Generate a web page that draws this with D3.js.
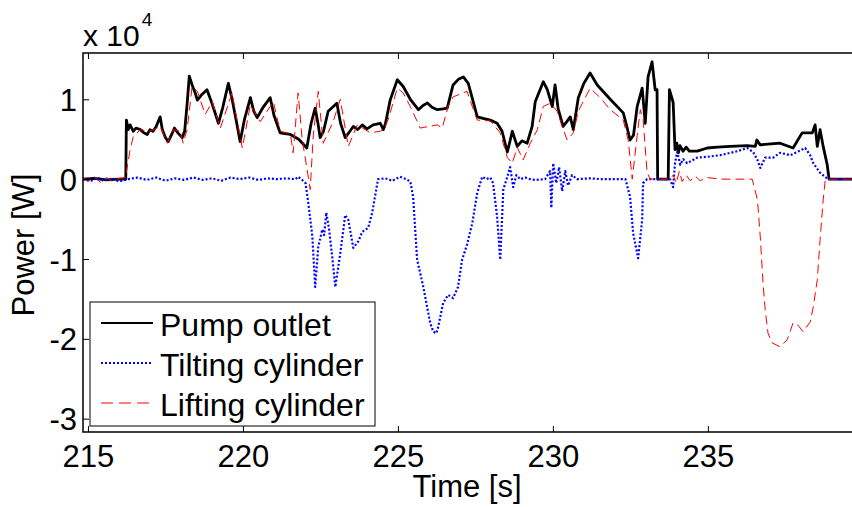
<!DOCTYPE html>
<html>
<head>
<meta charset="utf-8">
<script src="https://cdn.jsdelivr.net/npm/d3@7"></script>
<style>
  body { margin: 0; background: #fff; }
  text { font-family: "Liberation Sans", Arial, sans-serif; fill: #000; }
</style>
</head>
<body>
<div id="chart-area"></div>
<script>
// values are in units of 1e4 W, times in s
var xTicks = [215, 220, 225, 230, 235];
var yTicks = [1, 0, -1, -2, -3];
var seriesNames = ["Pump outlet", "Tilting cylinder", "Lifting cylinder"];

var pumpOutlet = [
  [214.84,0],[215.2,0.01],[215.6,-0.01],[216.0,0],[216.22,0],
  [216.24,0.74],[216.3,0.62],[216.36,0.68],[216.46,0.6],[216.55,0.64],[216.69,0.62],[216.8,0.58],
  [216.91,0.56],[217.0,0.62],[217.1,0.6],[217.2,0.66],[217.33,0.78],[217.4,0.62],[217.5,0.52],
  [217.59,0.47],[217.7,0.56],[217.79,0.64],[217.9,0.58],[218.04,0.52],[218.12,0.6],[218.2,0.95],
  [218.27,1.29],[218.36,1.18],[218.46,1.08],[218.53,0.99],[218.65,1.05],[218.84,1.12],[219.0,0.95],
  [219.21,0.7],[219.35,0.9],[219.53,1.2],[219.65,1.0],[219.8,0.7],[219.91,0.47],[220.05,0.75],
  [220.24,1.02],[220.35,0.85],[220.46,0.77],[220.65,0.9],[220.88,1.02],[221.0,0.8],[221.2,0.58],
  [221.35,0.57],[221.53,0.56],[221.8,0.5],[222.06,0.39],[222.2,0.7],[222.33,0.89],[222.42,0.7],
  [222.49,0.52],[222.6,0.6],[222.75,0.85],[223.03,0.95],[223.15,0.7],[223.3,0.52],[223.45,0.6],
  [223.56,0.66],[223.7,0.62],[223.85,0.68],[224.0,0.63],[224.2,0.68],[224.43,0.7],[224.53,0.62],
  [224.6,0.7],[224.75,0.99],[224.98,1.245],[225.17,1.16],[225.4,1.0],[225.66,0.87],[225.8,0.92],
  [225.95,0.955],[226.1,0.9],[226.27,0.87],[226.45,0.88],[226.59,0.89],[226.78,1.18],[226.95,1.25],
  [227.11,1.28],[227.27,1.2],[227.56,0.78],[227.75,0.76],[227.98,0.74],[228.2,0.7],[228.36,0.6],
  [228.53,0.34],[228.6,0.45],[228.69,0.6],[228.85,0.41],[229.0,0.48],[229.17,0.45],[229.33,0.66],
  [229.43,0.97],[229.69,1.22],[229.82,1.12],[229.98,0.91],[230.07,1.18],[230.17,0.88],[230.33,0.66],
  [230.45,0.72],[230.56,0.78],[230.66,0.62],[230.82,1.02],[231.0,1.2],[231.2,1.33],[231.43,1.18],
  [231.85,1.0],[232.27,0.83],[232.36,0.7],[232.49,0.49],[232.6,0.55],[232.72,0.91],[232.88,1.14],
  [232.98,0.7],[233.07,1.28],[233.2,1.47],[233.3,1.12],[233.36,1.12],[233.38,0],[233.72,0],
  [233.76,1.12],[233.88,0.96],[233.94,0.37],[234.0,0.45],[234.05,0.33],[234.1,0.42],[234.2,0.35],
  [234.3,0.4],[234.4,0.35],[234.66,0.35],[234.98,0.39],[235.3,0.4],[235.72,0.41],[236.27,0.42],
  [236.53,0.41],[236.58,0.49],[236.69,0.43],[237.33,0.45],[237.75,0.39],[238.04,0.58],[238.37,0.58],
  [238.46,0.68],[238.53,0.41],[238.62,0.62],[238.72,0.41],[238.85,0.18],[238.91,0],[239.65,0]
];

var tiltingCylinder = [
  [214.84,0],[215.1,-0.02],[215.3,0.02],[215.5,-0.02],[215.8,0.01],[216.0,-0.03],[216.3,0],
  [216.6,0.02],[216.9,-0.01],[217.2,0.02],[217.5,-0.02],[217.8,0.01],[218.1,-0.01],[218.4,0.02],
  [218.7,-0.01],[219.0,0.01],[219.3,-0.02],[219.6,0.02],[219.9,0],[220.2,0.02],[220.5,-0.01],
  [220.8,0.01],[221.1,0],[221.4,0.01],[221.7,0],[221.78,0.03],[221.91,-0.01],
  [222.02,-0.05],[222.11,-0.3],[222.24,-0.72],[222.33,-1.35],[222.43,-0.85],[222.56,-0.63],
  [222.62,-0.7],[222.69,-0.42],[222.78,-0.63],[222.88,-0.97],[222.98,-1.35],[223.14,-0.93],
  [223.3,-0.45],[223.4,-0.51],[223.56,-0.86],[223.72,-0.78],[223.85,-0.66],[224.04,-0.61],
  [224.17,-0.42],[224.36,0],[224.59,0.01],[224.82,-0.02],[225.07,0.03],[225.26,0],[225.4,-0.03],
  [225.49,-0.22],[225.62,-1.01],[225.82,-1.35],[226.04,-1.8],[226.14,-1.91],[226.24,-1.93],
  [226.3,-1.85],[226.46,-1.55],[226.62,-1.45],[226.78,-1.49],[226.94,-1.35],[227.07,-1.01],
  [227.23,-0.82],[227.4,-0.55],[227.56,-0.17],[227.72,0.03],[227.85,0],[227.98,0.02],
  [228.07,-0.05],[228.2,-0.47],[228.3,-1.01],[228.4,-0.13],[228.53,0.03],[228.62,0.15],
  [228.72,-0.1],[228.82,0.05],[228.95,0],[229.11,0.02],[229.27,0],[229.43,-0.01],[229.75,0],
  [229.91,0.1],[229.95,-0.36],[230.01,0.2],[230.11,-0.05],[230.2,0.15],[230.3,-0.15],[230.4,0.1],
  [230.49,-0.08],[230.62,0.05],[230.78,0],[231.2,0.01],[231.53,0],[231.85,0],[232.34,0],
  [232.49,-0.22],[232.59,-0.68],[232.75,-0.99],[232.88,-0.51],[232.91,-0.05],[233.04,0],
  [233.78,0],[233.88,-0.1],[233.94,0.2],[234.01,0.34],[234.11,0.18],[234.2,0.25],[234.33,0.2],
  [234.66,0.27],[234.98,0.28],[235.4,0.3],[235.95,0.35],[236.27,0.39],[236.46,0.34],[236.6,0.24],
  [236.69,0.14],[236.85,0.27],[237.11,0.27],[237.33,0.33],[237.66,0.3],[237.88,0.34],[238.14,0.39],
  [238.3,0.3],[238.4,0.2],[238.62,0.08],[238.88,0],[239.65,0]
];

var liftingCylinder = [
  [214.84,0.02],[215.0,-0.03],[215.2,0.03],[215.4,-0.04],[215.6,0.02],[215.8,-0.03],[216.0,0.01],
  [216.21,0.02],[216.36,0.37],[216.46,0.53],[216.69,0.62],[217.01,0.6],[217.33,0.66],[217.56,0.45],
  [217.75,0.62],[217.98,0.6],[218.07,0.45],[218.2,0.62],[218.36,1.16],[218.53,1.1],[218.78,0.81],
  [219.01,0.97],[219.27,0.64],[219.65,1.08],[219.78,0.8],[219.98,0.39],[220.24,0.93],[220.56,0.72],
  [220.98,0.97],[221.2,0.6],[221.53,0.57],[221.62,0.33],[221.78,1.08],[221.91,0.5],[222.07,0.12],
  [222.17,-0.13],[222.27,0.55],[222.43,1.1],[222.59,0.45],[222.91,0.72],[223.14,1.0],[223.4,0.41],
  [223.69,0.68],[224.11,0.58],[224.43,0.6],[224.53,0.62],[224.69,0.75],[224.98,1.14],[225.17,1.08],
  [225.4,0.91],[225.72,0.64],[226.27,0.68],[226.43,0.64],[226.62,0.91],[226.78,1.03],[227.23,1.1],
  [227.4,0.91],[227.56,0.74],[227.98,0.73],[228.3,0.58],[228.53,0.27],[228.69,0.2],[228.85,0.4],
  [229.04,0.24],[229.27,0.45],[229.5,0.62],[229.69,0.91],[229.91,0.95],[230.14,0.85],[230.3,0.66],
  [230.46,0.49],[230.66,0.58],[230.82,0.85],[231.2,1.14],[231.53,1.02],[231.85,0.87],[232.27,0.74],
  [232.43,0.49],[232.56,0],[232.72,0.55],[232.82,0.87],[232.91,0.75],[233.04,0.08],[233.14,0],
  [233.78,0],[233.88,0.05],[233.98,-0.05],[234.08,0.1],[234.17,-0.03],[234.3,0.05],[234.43,-0.02],
  [234.59,0.04],[234.75,-0.02],[234.98,0.02],[235.4,0],[236.43,0],[236.6,-0.26],[236.69,-0.72],
  [236.78,-1.3],[236.85,-1.64],[236.94,-1.93],[237.07,-2.05],[237.33,-2.1],[237.56,-2.01],
  [237.75,-1.8],[237.91,-1.83],[238.07,-1.91],[238.3,-1.79],[238.4,-1.6],[238.53,-1.26],
  [238.62,-0.76],[238.72,-0.26],[238.79,0],[239.65,0]
];

var W = 852, H = 507;
var mLeft = 83, mTop = 53, mRight = 852, mBottom = 432;

var svg = d3.select("#chart-area").append("svg")
  .attr("width", W)
  .attr("height", H);

var x = d3.scaleLinear().domain([214.84, 239.65]).range([mLeft, mRight]);
var y = d3.scaleLinear().domain([-3.167, 1.58]).range([mBottom, mTop]);

svg.append("defs").append("clipPath").attr("id", "plot-clip")
  .append("rect")
  .attr("x", mLeft).attr("y", mTop)
  .attr("width", mRight - mLeft).attr("height", mBottom - mTop);

var line = d3.line()
  .x((d)=>{return x(d[0]);})
  .y((d)=>{return y(d[1]);});

var styles = [
  {color: "#000", width: 2.8, dash: null},
  {color: "#0000ff", width: 2.2, dash: "2,2"},
  {color: "#ff0000", width: 1, dash: "9,5"}
];
var allSeries = [pumpOutlet, tiltingCylinder, liftingCylinder];

var plot = svg.append("g").attr("clip-path", "url(#plot-clip)");
allSeries.forEach((s, i)=>{
  plot.append("path")
    .datum(s)
    .attr("d", line)
    .attr("fill", "none")
    .attr("stroke", styles[i].color)
    .attr("stroke-width", styles[i].width)
    .attr("stroke-dasharray", styles[i].dash)
    .attr("stroke-linejoin", "round");
});

// axes, MATLAB style inward ticks
var bottomAxis = d3.axisBottom(x).tickValues(xTicks).tickSizeInner(-6).tickSizeOuter(0).tickPadding(13);
svg.append("g")
  .attr("transform", "translate(0," + mBottom + ")")
  .call(bottomAxis)
  .call(g=>g.selectAll("text").attr("font-size", "31px"));

var topAxis = d3.axisTop(x).tickValues(xTicks).tickSizeInner(-6).tickSizeOuter(0).tickFormat("");
svg.append("g")
  .attr("transform", "translate(0," + mTop + ")")
  .call(topAxis);

var leftAxis = d3.axisLeft(y).tickValues(yTicks).tickSizeInner(-6).tickSizeOuter(0).tickPadding(6)
  .tickFormat((d)=>{return String(d);});
svg.append("g")
  .attr("transform", "translate(" + mLeft + ",0)")
  .call(leftAxis)
  .call(g=>g.selectAll("text").attr("font-size", "31px").attr("dy", "0.36em"));

svg.selectAll(".domain").remove();
svg.selectAll(".tick line").attr("stroke", "#000").attr("stroke-width", 1);
svg.selectAll(".tick text").attr("font-family", "Liberation Sans, Arial, sans-serif");

// box (top, left, bottom)
svg.append("path")
  .attr("d", "M" + mRight + "," + mTop + "H" + mLeft + "V" + mBottom + "H" + mRight)
  .attr("fill", "none")
  .attr("stroke", "#000")
  .attr("stroke-width", 1.5);

// exponent label
var expo = svg.append("text")
  .attr("x", 83)
  .attr("y", 46)
  .attr("font-size", "30px");
expo.append("tspan").text("x 10");
expo.append("tspan").attr("font-size", "19px").attr("dx", "2").attr("dy", "-20").text("4");

svg.append("text")
  .attr("x", 467)
  .attr("y", 497)
  .attr("font-size", "31px")
  .attr("text-anchor", "middle")
  .text("Time [s]");

svg.append("text")
  .attr("transform", "translate(34,245) rotate(-90)")
  .attr("font-size", "31px")
  .attr("text-anchor", "middle")
  .text("Power [W]");

// legend
var legend = svg.append("g");
legend.append("rect")
  .attr("x", 90).attr("y", 302)
  .attr("width", 285).attr("height", 124)
  .attr("fill", "#fff")
  .attr("stroke", "#000")
  .attr("stroke-width", 1);

var rowY = [323, 363, 403];
seriesNames.forEach((name, i)=>{
  legend.append("line")
    .attr("x1", 101).attr("x2", 153)
    .attr("y1", rowY[i]).attr("y2", rowY[i])
    .attr("stroke", styles[i].color)
    .attr("stroke-width", i === 0 ? 2 : styles[i].width)
    .attr("stroke-dasharray", i === 2 ? "12,6" : styles[i].dash);
  legend.append("text")
    .attr("x", 160)
    .attr("y", rowY[i] + 13)
    .attr("font-size", "32px")
    .text(name);
});
</script>
</body>
</html>
